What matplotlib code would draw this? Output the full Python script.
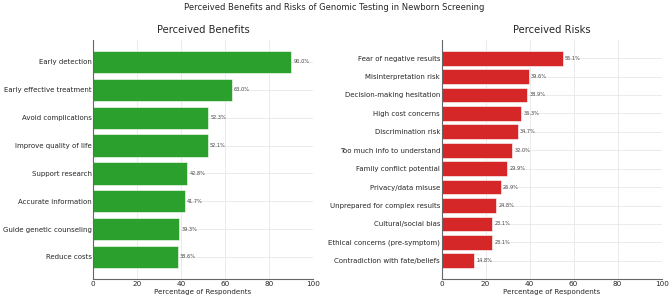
import matplotlib.pyplot as plt
import seaborn as sns

# Survey data
benefit_labels = ['Early detection', 'Early effective treatment',
                  'Avoid complications', 'Improve quality of life',
                  'Support research', 'Accurate information',
                  'Guide genetic counseling', 'Reduce costs']
benefit_values = [90.0, 63.0, 52.3, 52.1, 42.8, 41.7, 39.3, 38.6]

risk_labels = ['Fear of negative results', 'Misinterpretation risk',
               'Decision-making hesitation', 'High cost concerns',
               'Discrimination risk', 'Too much info to understand',
               'Family conflict potential', 'Privacy/data misuse',
               'Unprepared for complex results', 'Cultural/social bias',
               'Ethical concerns (pre-symptom)',
               'Contradiction with fate/beliefs']
risk_values = [55.1, 39.6, 38.9, 36.3, 34.7, 32.0, 29.9, 26.9,
               24.8, 23.1, 23.1, 14.8]

sns.set_style('whitegrid')
plt.rcParams['font.family'] = ['DejaVu Sans']

fig = plt.figure(figsize=(6.69, 3.0), dpi=100)
ax1 = fig.add_axes([0.139, 0.07, 0.329, 0.797])
ax2 = fig.add_axes([0.660, 0.07, 0.329, 0.797])


def draw_panel(ax, labels, values, color, title):
    y = list(range(len(labels)))
    ax.barh(y, values, height=0.8, color=color, edgecolor='white',
            linewidth=0.4)
    ax.set_yticks(y)
    ax.set_yticklabels(labels, fontsize=5)
    ax.invert_yaxis()
    for yi, v in zip(y, values):
        ax.text(v + 1, yi, f'{v:.1f}%', va='center', ha='left',
                fontsize=3.6, color='#444444')
    ax.set_xlim(0, 100)
    ax.set_xticks([0, 20, 40, 60, 80, 100])
    ax.tick_params(axis='x', labelsize=5.2, length=0, pad=1.5)
    ax.tick_params(axis='y', length=0, pad=1)
    ax.set_xlabel('Percentage of Respondents', fontsize=5.1, labelpad=1.5)
    ax.set_title(title, fontsize=7.2, pad=5)
    ax.grid(True, color='#e8e8e8', linewidth=0.6)
    ax.set_axisbelow(True)
    for side in ['top', 'right']:
        ax.spines[side].set_visible(False)
    for side in ['left', 'bottom']:
        ax.spines[side].set_color('#666666')
        ax.spines[side].set_linewidth(0.8)


draw_panel(ax1, benefit_labels, benefit_values, '#2ca02c',
           'Perceived Benefits')
draw_panel(ax2, risk_labels, risk_values, '#d62728', 'Perceived Risks')

fig.suptitle('Perceived Benefits and Risks of Genomic Testing in Newborn '
             'Screening', fontsize=6.0, y=0.99)

fig.savefig('out.png', dpi=100)
